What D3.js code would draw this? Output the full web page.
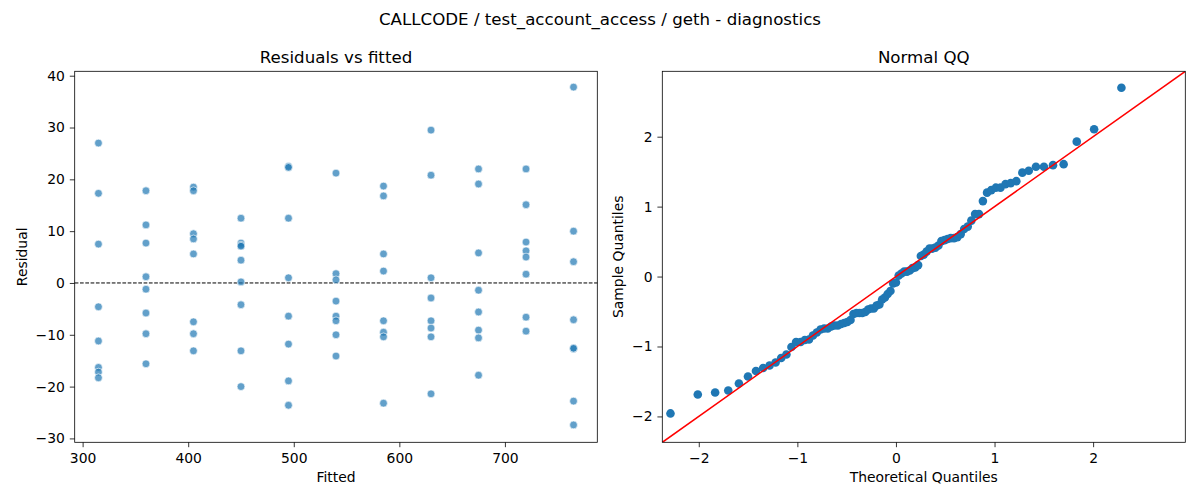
<!DOCTYPE html>
<html>
<head>
<meta charset="utf-8">
<script src="https://cdn.jsdelivr.net/npm/d3@7"></script>
<style>
  html, body { margin: 0; padding: 0; background: #fff; }
  svg { display: block; font-family: "DejaVu Sans", sans-serif; }
</style>
</head>
<body>
<svg id="chart" width="1200" height="500"></svg>
<script>
// ---------- data ----------
const suptitle = "CALLCODE / test_account_access / geth - diagnostics";
const leftTitle = "Residuals vs fitted";
const rightTitle = "Normal QQ";

// fitted value groups and residuals per group
const fittedLevels = [315, 360, 405, 450, 495, 540, 585, 630, 675, 720, 765];
const residualsByLevel = [
  [27.0, 17.3, 7.5, -4.6, -11.2, -16.3, -17.2, -18.3],
  [17.8, 11.2, 7.7, 1.2, -1.2, -5.8, -9.8, -15.6],
  [18.5, 17.8, 9.5, 8.5, 5.6, -7.5, -9.8, -13.1],
  [12.5, 7.7, 7.3, 7.1, 4.4, 0.2, -4.2, -13.1, -20.0],
  [22.5, 22.3, 12.5, 1.0, -6.4, -11.8, -18.9, -23.6],
  [21.2, 1.8, 0.6, -3.5, -6.4, -7.3, -10.0, -14.1],
  [18.7, 16.8, 5.6, 2.3, -7.3, -9.5, -10.4, -23.2],
  [29.5, 20.8, 1.0, -2.9, -7.3, -8.7, -10.4, -21.4],
  [22.0, 19.1, 5.8, -1.4, -5.6, -9.1, -10.6, -17.8],
  [22.0, 15.1, 7.9, 6.2, 5.0, 1.7, -6.6, -9.3],
  [37.8, 10.0, 4.1, -7.1, -12.7, -12.6, -22.8, -27.4]
];
const leftXTicks = [300, 400, 500, 600, 700];
const leftYTicks = [-30, -20, -10, 0, 10, 20, 30, 40];

// Normal QQ: theoretical quantiles and sample quantiles
const qqTheoretical = [
  -2.287, -2.010, -1.834, -1.701, -1.593, -1.501, -1.420, -1.347, -1.282, -1.221,
  -1.164, -1.111, -1.060, -1.013, -0.967, -0.924, -0.882, -0.842, -0.803, -0.765,
  -0.728, -0.692, -0.657, -0.623, -0.589, -0.556, -0.524, -0.493, -0.461, -0.431,
  -0.400, -0.370, -0.341, -0.311, -0.282, -0.253, -0.225, -0.196, -0.168, -0.140,
  -0.112, -0.084, -0.056, -0.028, 0.000,
  0.028, 0.056, 0.084, 0.112, 0.140, 0.168, 0.196, 0.225, 0.253, 0.282,
  0.311, 0.341, 0.370, 0.400, 0.431, 0.461, 0.493, 0.524, 0.556, 0.589,
  0.623, 0.657, 0.692, 0.728, 0.765, 0.803, 0.842, 0.882, 0.924, 0.967,
  1.013, 1.060, 1.111, 1.164, 1.221, 1.282, 1.347, 1.420, 1.501, 1.593,
  1.701, 1.834, 2.010, 2.287
];
const qqSample = [
  -1.957, -1.686, -1.657, -1.629, -1.529, -1.429, -1.350, -1.307, -1.271, -1.229,
  -1.164, -1.114, -1.007, -0.936, -0.936, -0.907, -0.900, -0.843, -0.800, -0.757,
  -0.743, -0.743, -0.714, -0.700, -0.700, -0.679, -0.664, -0.650, -0.621, -0.536,
  -0.521, -0.521, -0.521, -0.507, -0.471, -0.457, -0.457, -0.414, -0.400, -0.329,
  -0.300, -0.250, -0.207, -0.100, -0.086,
  0.014, 0.043, 0.071, 0.071, 0.086, 0.121, 0.129, 0.164, 0.293, 0.314,
  0.357, 0.400, 0.400, 0.414, 0.443, 0.507, 0.521, 0.536, 0.550, 0.550,
  0.564, 0.607, 0.679, 0.714, 0.800, 0.893, 0.893, 1.079, 1.200, 1.236,
  1.271, 1.271, 1.321, 1.336, 1.364, 1.486, 1.514, 1.571, 1.571, 1.593,
  1.607, 1.929, 2.107, 2.700
];
const qqXTicks = [-2, -1, 0, 1, 2];
const qqYTicks = [-2, -1, 0, 1, 2];
const qqLimits = [-2.37, 2.935];

// ---------- drawing ----------
const svg = d3.select("#chart");
svg.append("rect").attr("width", 1200).attr("height", 500).attr("fill", "#fff");

const fmt = v => (v < 0 ? "\u2212" + Math.abs(v) : String(v));
const TICK = 4.9, PAD = 4.9, FS = 13.9;

function frame(g, x0, x1, y0, y1) {
  g.append("rect").attr("x", x0).attr("y", y0)
    .attr("width", x1 - x0).attr("height", y1 - y0)
    .attr("fill", "none").attr("stroke", "#000").attr("stroke-width", 0.8);
}

function axes(g, xs, ys, xt, yt) {
  const [x0] = xs.range(); const [y0] = ys.range();
  const xa = d3.axisBottom(xs).tickValues(xt).tickSize(TICK).tickPadding(PAD).tickFormat(fmt);
  const ya = d3.axisLeft(ys).tickValues(yt).tickSize(TICK).tickPadding(PAD).tickFormat(fmt);
  const gx = g.append("g").attr("transform", `translate(0,${y0})`).call(xa);
  const gy = g.append("g").attr("transform", `translate(${x0},0)`).call(ya);
  [gx, gy].forEach(a => {
    a.select(".domain").remove();
    a.selectAll("line").attr("stroke", "#000").attr("stroke-width", 0.8);
    a.selectAll("text").attr("fill", "#000")
      .style("font-family", "DejaVu Sans, sans-serif").style("font-size", FS + "px");
  });
  gx.selectAll("text").attr("dy", "0.75em");
}

// suptitle
svg.append("text").attr("x", 600).attr("y", 24.5).attr("text-anchor", "middle")
  .style("font-size", "16.67px").attr("fill", "#000").text(suptitle);

// ----- left panel -----
const L = { x0: 74.7, x1: 597.3, y0: 71.3, y1: 442.3 };
const xL = d3.scaleLinear().domain([292.5, 787.5]).range([L.x0, L.x1]);
const yL = d3.scaleLinear().domain([-30.75, 40.85]).range([L.y1, L.y0]);
const gL = svg.append("g");

const leftPoints = [];
fittedLevels.forEach((f, i) => residualsByLevel[i].forEach(r => leftPoints.push({ f, r })));

gL.append("line").attr("x1", L.x0).attr("x2", L.x1)
  .attr("y1", yL(0)).attr("y2", yL(0))
  .attr("stroke", "#000").attr("stroke-width", 1).attr("stroke-dasharray", "3.7,1.6");

gL.append("g").selectAll("circle").data(leftPoints).join("circle")
  .attr("cx", d => xL(d.f)).attr("cy", d => yL(d.r)).attr("r", 3.9)
  .attr("fill", "#1f77b4").attr("fill-opacity", 0.7)
  .attr("stroke", "#fff").attr("stroke-width", 0.7).attr("stroke-opacity", 0.9);

frame(gL, L.x0, L.x1, L.y0, L.y1);
axes(gL, xL, yL, leftXTicks, leftYTicks);

gL.append("text").attr("x", (L.x0 + L.x1) / 2).attr("y", 62.7).attr("text-anchor", "middle")
  .style("font-size", "16.67px").attr("fill", "#000").text(leftTitle);
gL.append("text").attr("x", (L.x0 + L.x1) / 2).attr("y", 482).attr("text-anchor", "middle")
  .style("font-size", FS + "px").attr("fill", "#000").text("Fitted");
gL.append("text").attr("transform", `translate(26.5,${(L.y0 + L.y1) / 2}) rotate(-90)`)
  .attr("text-anchor", "middle").style("font-size", FS + "px").attr("fill", "#000").text("Residual");

// ----- right panel -----
const R = { x0: 662.3, x1: 1185.3, y0: 71.3, y1: 442.3 };
const xR = d3.scaleLinear().domain(qqLimits).range([R.x0, R.x1]);
const yR = d3.scaleLinear().domain(qqLimits).range([R.y1, R.y0]);
const gR = svg.append("g");
const clip = svg.append("defs").append("clipPath").attr("id", "clipR");
clip.append("rect").attr("x", R.x0).attr("y", R.y0).attr("width", R.x1 - R.x0).attr("height", R.y1 - R.y0);

const qqPoints = qqTheoretical.map((t, i) => ({ t, s: qqSample[i] }));
gR.append("g").selectAll("circle").data(qqPoints).join("circle")
  .attr("cx", d => xR(d.t)).attr("cy", d => yR(d.s)).attr("r", 4.3)
  .attr("fill", "#1f77b4");

gR.append("line").attr("clip-path", "url(#clipR)")
  .attr("x1", xR(qqLimits[0])).attr("y1", yR(qqLimits[0]))
  .attr("x2", xR(qqLimits[1])).attr("y2", yR(qqLimits[1]))
  .attr("stroke", "#ff0000").attr("stroke-width", 1.5);

frame(gR, R.x0, R.x1, R.y0, R.y1);
axes(gR, xR, yR, qqXTicks, qqYTicks);

gR.append("text").attr("x", (R.x0 + R.x1) / 2).attr("y", 62.7).attr("text-anchor", "middle")
  .style("font-size", "16.67px").attr("fill", "#000").text(rightTitle);
gR.append("text").attr("x", (R.x0 + R.x1) / 2).attr("y", 482).attr("text-anchor", "middle")
  .style("font-size", FS + "px").attr("fill", "#000").text("Theoretical Quantiles");
gR.append("text").attr("transform", `translate(622.5,${(R.y0 + R.y1) / 2}) rotate(-90)`)
  .attr("text-anchor", "middle").style("font-size", FS + "px").attr("fill", "#000").text("Sample Quantiles");
</script>
</body>
</html>
